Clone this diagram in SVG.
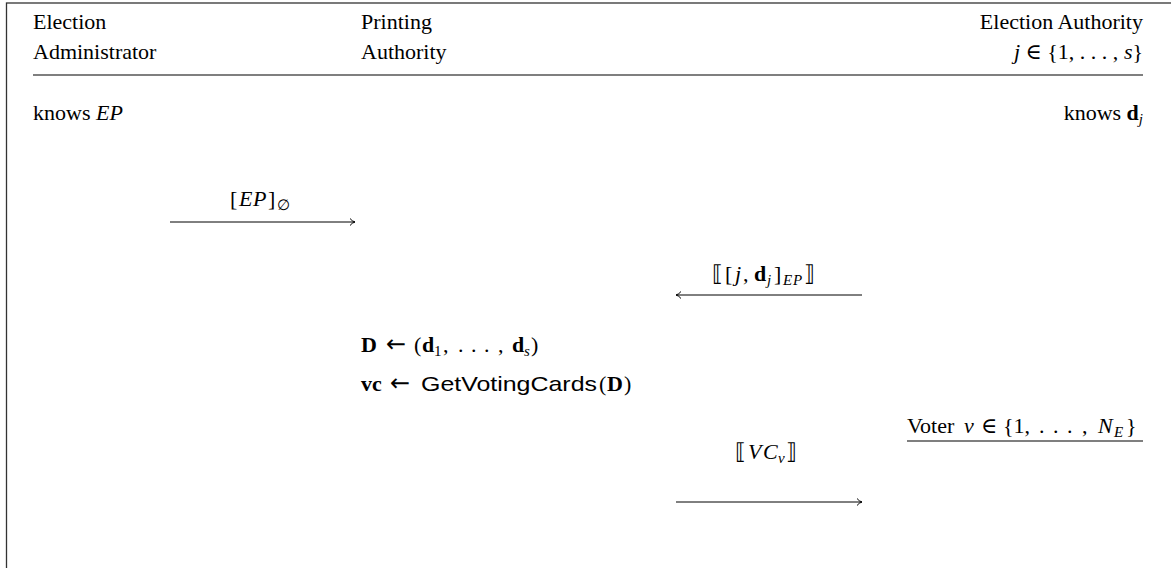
<svg xmlns="http://www.w3.org/2000/svg" width="1171" height="568" viewBox="0 0 1171 568">
<style>
text{font-family:"Liberation Serif","DejaVu Serif",serif;font-size:22px;fill:#000}
.i{font-style:italic}
.b{font-weight:bold}
.sf{font-family:"Liberation Sans","DejaVu Sans",sans-serif;font-size:21px}
.ar{font-family:"DejaVu Sans",sans-serif;font-size:24px}
.sub{font-size:15px}
.line{stroke:#000;stroke-width:1.1;fill:none}
.conn{stroke:#000;stroke-width:1;fill:none}
</style>
<defs>
<marker id="ah" markerWidth="10" markerHeight="10" refX="7" refY="5" orient="auto" markerUnits="userSpaceOnUse">
<path d="M2,1.5 Q4,4.2 7,5 Q4,5.8 2,8.5" fill="none" stroke="#000" stroke-width="1"/>
</marker>
</defs>
<rect x="6.5" y="3" width="1200" height="600" fill="none" stroke="#333" stroke-width="1.3"/>
<g id="header">
<line class="line" x1="33" y1="75" x2="1143" y2="75"/>
</g>
<g id="election-administrator">
<text x="33" y="29">Election</text>
<text x="33" y="59">Administrator</text>
<text x="33" y="120">knows <tspan class="i">EP</tspan></text>
</g>
<g id="printing-authority">
<text x="361" y="29">Printing</text>
<text x="361" y="59">Authority</text>
<text y="352"><tspan class="b" x="361">D</tspan><tspan class="ar" x="386">←</tspan><tspan x="414">(</tspan><tspan class="b" x="422">d</tspan><tspan class="sub" x="434" dy="4">1</tspan><tspan x="443" dy="-4">,</tspan><tspan x="458">.</tspan><tspan x="471">.</tspan><tspan x="484">.</tspan><tspan x="498">,</tspan><tspan class="b" x="512">d</tspan><tspan class="sub i" x="524" dy="4">s</tspan><tspan x="531" dy="-4">)</tspan></text>
<text y="391"><tspan class="b" x="361">vc</tspan><tspan class="ar" x="390">←</tspan><tspan class="sf" x="421" textLength="176" lengthAdjust="spacingAndGlyphs">GetVotingCards</tspan><tspan x="599">(</tspan><tspan class="b" x="607">D</tspan><tspan x="624">)</tspan></text>
</g>
<g id="election-authority">
<text x="1143" y="29" text-anchor="end">Election Authority</text>
<text x="1143" y="59" text-anchor="end"><tspan class="i">j</tspan> ∈ {1, . . . , <tspan class="i">s</tspan>}</text>
<text x="1143" y="120" text-anchor="end">knows <tspan class="b">d</tspan><tspan class="sub i" dy="4">j</tspan></text>
</g>
<g id="voter">
<text y="433"><tspan x="907">Voter</tspan><tspan class="i" x="964">v</tspan><tspan x="981">∈</tspan><tspan x="1003">{1,</tspan><tspan x="1039">.</tspan><tspan x="1053">.</tspan><tspan x="1067">.</tspan><tspan x="1082">,</tspan><tspan class="i" x="1098">N</tspan><tspan class="sub i" x="1114" dy="4">E</tspan><tspan x="1126" dy="-4">}</tspan></text>
<line class="line" x1="907" y1="441" x2="1143" y2="441"/>
</g>
<g id="connectors">
<line class="conn" x1="170" y1="222" x2="355" y2="222" marker-end="url(#ah)"/>
<text y="206"><tspan x="230">[</tspan><tspan class="i" x="239">E</tspan><tspan class="i" x="253">P</tspan><tspan x="268">]</tspan><tspan class="sub" x="277" dy="4">∅</tspan></text>
<line class="conn" x1="862" y1="295" x2="676" y2="295" marker-end="url(#ah)"/>
<text y="281"><tspan x="712">⟦</tspan><tspan x="725">[</tspan><tspan class="i" x="735">j</tspan><tspan x="743">,</tspan><tspan class="b" x="754">d</tspan><tspan class="sub i" x="767" dy="4">j</tspan><tspan x="774" dy="-4">]</tspan><tspan class="sub i" x="783" dy="4">E</tspan><tspan class="sub i" x="793">P</tspan><tspan x="804" dy="-4">⟧</tspan></text>
<line class="conn" x1="676" y1="502" x2="862" y2="502" marker-end="url(#ah)"/>
<text y="459"><tspan x="735">⟦</tspan><tspan class="i" x="748">V</tspan><tspan class="i" x="763">C</tspan><tspan class="sub i" x="778" dy="4">v</tspan><tspan x="786" dy="-4">⟧</tspan></text>
</g>
</svg>
